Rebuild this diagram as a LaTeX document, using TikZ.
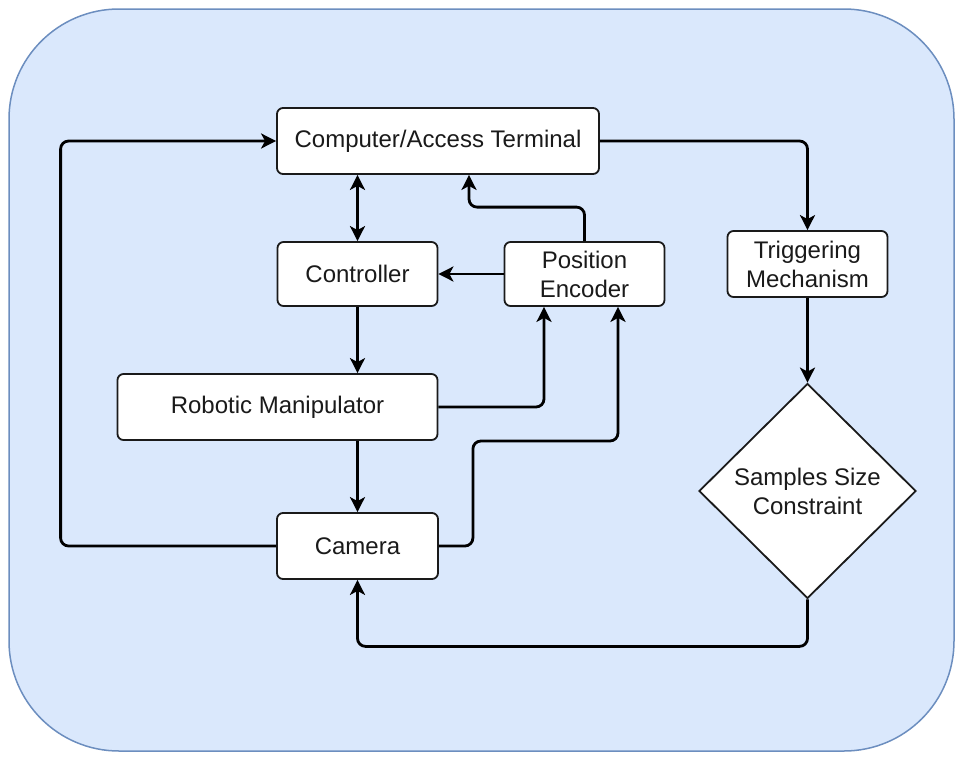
\documentclass[tikz,border=0pt]{standalone}
\usepackage{fontspec}
\setmainfont{Liberation Sans}
\usetikzlibrary{arrows.meta,shapes.geometric}
\definecolor{panelfill}{HTML}{DAE8FC}
\definecolor{panelline}{HTML}{6C8EBF}
\definecolor{ink}{HTML}{1A1A1A}
\tikzset{
  box/.style={draw=ink, fill=white, rounded corners=6pt, line width=1.8pt,
    inner sep=0pt, align=center, text=ink,
    font=\fontsize{24}{29}\selectfont},
  decision/.style={diamond, draw=ink, fill=white, line width=1.8pt,
    inner sep=0pt, align=center, text=ink,
    font=\fontsize{24}{29}\selectfont},
  link/.style={line width=2.8pt, draw=black, rounded corners=8pt,
    -{Stealth[length=15pt,width=15pt,inset=4pt]}},
  link2/.style={link, {Stealth[length=15pt,width=15pt,inset=4pt]}-{Stealth[length=15pt,width=15pt,inset=4pt]}},
}
\begin{document}
\begin{tikzpicture}[x=1pt,y=-1pt]
\useasboundingbox (0,0) rectangle (959,756);
% background panel
\draw[fill=panelfill, draw=panelline, line width=1.5pt, rounded corners=110pt]
  (9,9) rectangle (954,751);

% blocks
\node[box, minimum width=322pt, minimum height=66pt] (comp) at (438,141) {\raisebox{-1.5pt}{Computer/Access Terminal}};
\node[box, minimum width=160pt, minimum height=64pt] (ctrl) at (357.5,274) {\raisebox{-1.5pt}{Controller}};
\node[box, minimum width=160pt, minimum height=64pt] (pe) at (584.5,274) {Position\\Encoder};
\node[box, minimum width=320pt, minimum height=66pt] (rm) at (277.5,407) {\raisebox{-1.5pt}{Robotic Manipulator}};
\node[box, minimum width=161pt, minimum height=66pt] (cam) at (357.5,546) {\raisebox{-1.5pt}{Camera}};
\node[box, minimum width=160pt, minimum height=66pt] (trig) at (807.5,264) {Triggering\\Mechanism};
\node[decision, minimum width=217pt, minimum height=215pt] (dia) at (807.5,491) {Samples Size\\Constraint};

% connectors
\draw[link] (cam.west) -- ++(-215.5,0) |- (comp.west);
\draw[link2] (ctrl.north |- comp.south) -- (ctrl.north);
\draw[link] (pe.north) -- ++(0,-34) -| ([xshift=31pt]comp.south);
\draw[link] (pe.west) -- (ctrl.east);
\draw[link] (ctrl.south) -- (ctrl.south |- rm.north);
\draw[link] (rm.east) -| ([xshift=-40.5pt]pe.south);
\draw[link] (cam.north |- rm.south) -- (cam.north);
\draw[link] (cam.east) -| ++(34,-105) -| ([xshift=33.5pt]pe.south);
\draw[link] (comp.east) -| (trig.north);
\draw[link] (trig.south) -- (dia.north);
\draw[link] (dia.south) -- ++(0,47) -| (cam.south);
\end{tikzpicture}
\end{document}
